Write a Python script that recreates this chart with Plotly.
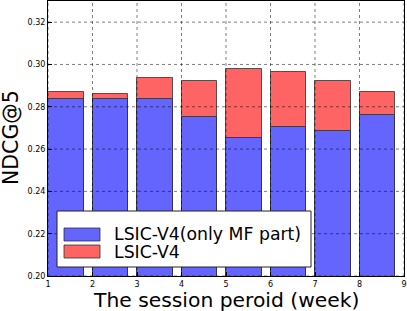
import plotly.graph_objects as go

weeks = [1, 2, 3, 4, 5, 6, 7, 8]
mf_only = [0.2837, 0.2836, 0.2837, 0.2750, 0.2654, 0.2706, 0.2684, 0.2760]
full = [0.2870, 0.2859, 0.2934, 0.2923, 0.2977, 0.2966, 0.2923, 0.2870]
series_names = ["LSIC-V4(only MF part)", "LSIC-V4"]
x_ticks = [1, 2, 3, 4, 5, 6, 7, 8, 9]
y_ticks = [0.20, 0.22, 0.24, 0.26, 0.28, 0.30, 0.32]

BLUE = "#6464ff"
RED = "#ff6464"
EDGE = "rgba(40,40,40,0.75)"

fig = go.Figure()
fig.add_trace(go.Bar(x=weeks, y=full, base=0, width=0.8, offset=0,
                     marker=dict(color=RED, line=dict(color=EDGE, width=1)),
                     name=series_names[1], showlegend=False))
fig.add_trace(go.Bar(x=weeks, y=mf_only, width=0.8, offset=0,
                     marker=dict(color=BLUE, line=dict(color=EDGE, width=1)),
                     name=series_names[0], showlegend=False))

shapes = []
for v in y_ticks:
    shapes.append(dict(type="line", xref="paper", yref="y", x0=0, x1=1, y0=v, y1=v,
                       line=dict(color="rgba(0,0,0,0.5)", width=1, dash="dot"), layer="above"))
for v in x_ticks:
    shapes.append(dict(type="line", xref="x", yref="paper", x0=v, x1=v, y0=0, y1=1,
                       line=dict(color="rgba(0,0,0,0.5)", width=1, dash="dot"), layer="above"))

W, H = 407, 311
L, R, T, B = 48, 3, 1, 35
pw, ph = W - L - R, H - T - B
def px(x):
    return (x - L) / pw
def py(y):
    return (H - B - y) / ph

shapes.append(dict(type="rect", xref="paper", yref="paper", x0=px(57), x1=px(311), y0=py(267), y1=py(211),
                   fillcolor="white", line=dict(color="#222", width=1), layer="above"))
shapes.append(dict(type="rect", xref="paper", yref="paper", x0=px(64), x1=px(100), y0=py(241), y1=py(228),
                   fillcolor=BLUE, line=dict(color=EDGE, width=1), layer="above"))
shapes.append(dict(type="rect", xref="paper", yref="paper", x0=px(64), x1=px(100), y0=py(258), y1=py(245),
                   fillcolor=RED, line=dict(color=EDGE, width=1), layer="above"))

annotations = [
    dict(text=series_names[0], xref="paper", yref="paper", x=px(112), y=py(234), xanchor="left", yanchor="middle",
         showarrow=False, font=dict(family="DejaVu Sans", size=17.3, color="black")),
    dict(text=series_names[1], xref="paper", yref="paper", x=px(112), y=py(251.5), xanchor="left", yanchor="middle",
         showarrow=False, font=dict(family="DejaVu Sans", size=17.3, color="black")),
    dict(text="The session peroid (week)", xref="paper", yref="paper", x=px(226), y=py(299.5),
         xanchor="center", yanchor="middle", showarrow=False,
         font=dict(family="DejaVu Sans", size=20.3, color="black")),
    dict(text="NDCG@5", xref="paper", yref="paper", x=px(11), y=py(138), textangle=-90,
         xanchor="center", yanchor="middle", showarrow=False,
         font=dict(family="DejaVu Sans", size=20.5, color="black")),
]

fig.update_layout(
    width=W, height=H, margin=dict(l=L, r=R, t=T, b=B),
    paper_bgcolor="white", plot_bgcolor="white",
    barmode="overlay", bargap=0,
    shapes=shapes, annotations=annotations,
    font=dict(family="DejaVu Sans", size=8, color="black"),
)
fig.update_xaxes(range=[1, 9], tickvals=x_ticks, ticks="inside", ticklen=4, tickcolor="black",
                 showgrid=False, zeroline=False, showline=True, linecolor="black", linewidth=1, mirror=True,
                 tickfont=dict(size=8))
fig.update_yaxes(range=[0.20, 0.33], tickvals=y_ticks, tickformat=".2f", ticks="inside", ticklen=4,
                 tickcolor="black", showgrid=False, zeroline=False, showline=True, linecolor="black",
                 linewidth=1, mirror=True, tickfont=dict(size=8))

fig.write_html("out.html", config={"displayModeBar": False},
               post_script="document.body.style.margin='0px';document.body.style.overflow='hidden';")
